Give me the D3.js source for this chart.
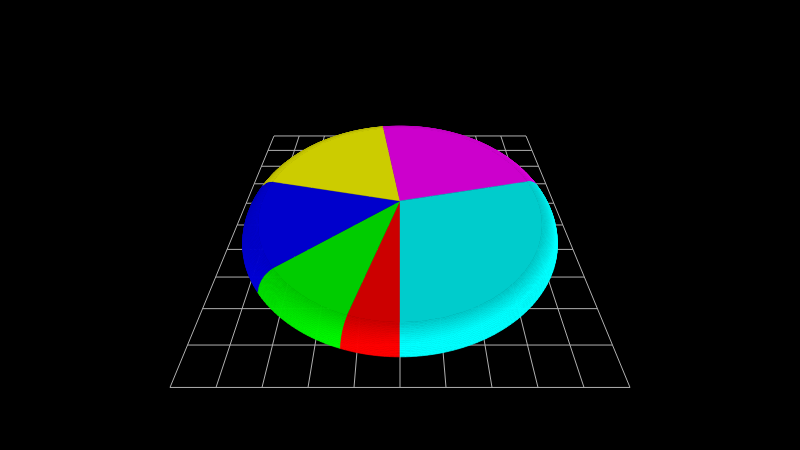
<!DOCTYPE html>
<html><head><meta charset="utf-8">
<script src="https://cdn.jsdelivr.net/npm/d3@7/dist/d3.min.js"></script>
<style>html,body{margin:0;padding:0;background:#000;overflow:hidden}svg{display:block}</style>
</head><body><svg id="c" width="800" height="450"></svg>
<script>
const categories = ["A","B","C","D","E","F"];
const values = [1,2,3,4,5,6];
const colors = ["#ff0000","#00ff00","#0000ff","#ffff00","#ff00ff","#00ffff"];
const gridDivisions = d3.range(0,11);

const svg = d3.select("#c");
svg.append("rect").attr("width",800).attr("height",450).attr("fill","#000");

// perspective camera fitted to the ground grid
const cx = 400, horizon = -168.7, groundK = 2.418;
const invScale = d3.scaleLinear().domain([-1,1]).range([1/126,1/230]);
function project(u,v,z){
  const s = 1/invScale(v);
  return [cx+u*s, horizon+(groundK-z)*s];
}
const gridPos = d3.scaleLinear().domain([0,10]).range([-1,1]);
const line = d3.line();
const grid = svg.append("g").attr("fill","none").attr("stroke","#b0b0b0").attr("stroke-width",1);
gridDivisions.forEach(i=>{
  const t = gridPos(i);
  grid.append("path").attr("d",line([project(t,-1,0),project(t,1,0)]));
  grid.append("path").attr("d",line([project(-1,t,0),project(1,t,0)]));
});

// pie solid: flat top + rounded rim
const R0=.845, R1=.93, zTop=.148, zRim=.067, bands=20;
const rimP = d3.range(0,bands+1).map(i=>i/bands);
const rad = d3.scaleLinear().domain([0,1]).range([R0,R1]);
const hgt = d3.scaleLinear().domain([0,1]).range([zTop,zRim]);
function rimPoint(a,p){
  const q=p*Math.PI/2, r=rad(Math.sin(q)), z=hgt(1-Math.cos(q));
  return project(r*Math.sin(a),-r*Math.cos(a),z);
}
function shade(a,p){
  const dir=a-Math.PI/2;           // heading: 0 right, 90deg front, 180deg left
  const g=.04+.24*Math.cos(dir-1);
  return Math.max(0,Math.min(1,.8+Math.pow(Math.sin(p*Math.PI/2),1.3)*g));
}
function tint(hex,k){const c=d3.rgb(hex);return d3.rgb(c.r*k,c.g*k,c.b*k).formatRgb();}
function area(pts){let s=0;pts.forEach((p,i)=>{const q=pts[(i+1)%pts.length];s+=p[0]*q[1]-q[0]*p[1];});return s;}

const arcs = d3.pie().sort(null).startAngle(Math.PI).endAngle(3*Math.PI)(values);
const step = Math.PI/120;
const pie = svg.append("g");
arcs.forEach((d,i)=>{
  const n=Math.max(2,Math.ceil((d.endAngle-d.startAngle)/step));
  const as=d3.range(0,n+1).map(k=>d.startAngle+(d.endAngle-d.startAngle)*k/n);
  for(let b=0;b<bands;b++){
    const p1=rimP[b],p2=rimP[b+1];
    for(let k=0;k<n;k++){
      const pts=[rimPoint(as[k],p1),rimPoint(as[k+1],p1),rimPoint(as[k+1],p2),rimPoint(as[k],p2)];
      if(area(pts)>=0) continue;
      const col=tint(colors[i],shade((as[k]+as[k+1])/2,(p1+p2)/2));
      pie.append("path").attr("d",line(pts)+"Z").attr("fill",col).attr("stroke",col).attr("stroke-width",.7);
    }
  }
});
arcs.forEach((d,i)=>{
  const n=Math.ceil((d.endAngle-d.startAngle)/step);
  const rimPts=d3.range(0,n+1).map(k=>rimPoint(d.startAngle+(d.endAngle-d.startAngle)*k/n,0));
  const col=tint(colors[i],.8);
  pie.append("path").attr("d",line([project(0,0,zTop),...rimPts])+"Z").attr("fill",col).attr("stroke",col).attr("stroke-width",.4);
});
</script></body></html>
